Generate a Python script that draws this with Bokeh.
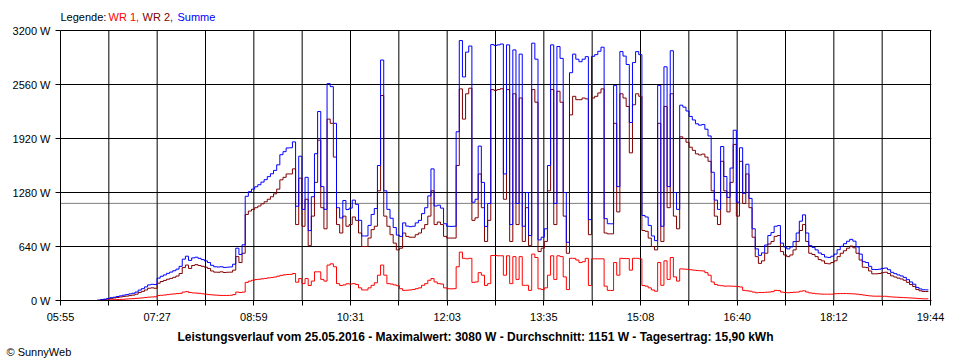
import numpy as np
from bokeh.plotting import figure
from bokeh.models import Span, Label, FixedTicker, ColumnDataSource, Title
from bokeh.embed import file_html
from bokeh.resources import INLINE

# ---------------- data ----------------
start_time = "06:30"      # first sample
step_min = 3              # minutes between samples

# WR 1 (red), in W
wr1 = [0, 2, 4, 6, 8, 9, 11, 13, 15, 18,
       20, 22, 25, 28, 32, 36, 40, 42, 44, 60, 62, 65, 70, 75, 78, 82, 85, 100, 105, 95,
       90, 88, 85, 80, 75, 70, 67, 64, 62, 60, 60, 60, 62, 70, 100, 95, 100, 215, 230, 240,
       248, 252, 257, 262, 268, 272, 278, 288, 298, 304, 308, 310, 320, 217, 260, 200, 260, 178, 230, 340,
       340, 250, 230, 420, 435, 400, 200, 178, 185, 198, 195, 200, 190, 150, 125, 125, 150, 180, 210, 300,
       420, 300, 200, 195, 185, 175, 140, 120, 122, 125, 130, 140, 150, 180, 200, 240, 260, 220, 200, 195,
       150, 140, 138, 140, 400, 573, 500, 494, 500, 215, 220, 330, 300, 178, 200, 533, 533, 530, 530, 300,
       530, 200, 520, 250, 520, 180, 180, 120, 550, 510, 138, 130, 150, 300, 530, 250, 530, 520, 280, 130,
       500, 500, 480, 450, 460, 500, 178, 494, 494, 494, 494, 170, 120, 119, 450, 300, 500, 497, 497, 360,
       500, 500, 494, 178, 170, 150, 125, 110, 450, 180, 470, 250, 510, 280, 230, 375, 372, 370, 365, 360,
       356, 353, 350, 330, 300, 220, 190, 180, 175, 170, 172, 170, 168, 165, 160, 120, 115, 110, 100, 92,
       95, 95, 98, 100, 105, 120, 118, 100, 95, 92, 95, 98, 100, 110, 115, 100, 90, 85, 80, 78,
       75, 75, 75, 75, 80, 82, 82, 83, 82, 80, 78, 75, 70, 65, 60, 55, 52, 51, 51, 50,
       50, 45, 42, 40, 38, 36, 34, 32, 30, 28, 25, 22, 20, 20, 20]

# WR 2 (dark red), in W
wr2 = [3, 8, 12, 18, 25, 30, 36, 42, 48, 52,
       58, 64, 75, 95, 108, 125, 145, 150, 145, 205, 225, 238, 252, 262, 275, 290, 320, 390, 420, 380,
       415, 425, 415, 405, 395, 380, 350, 336, 335, 340, 332, 335, 336, 360, 520, 450, 560, 1020, 1060, 1080,
       1100, 1120, 1146, 1170, 1200, 1230, 1264, 1320, 1430, 1460, 1500, 1500, 1560, 900, 1450, 880, 1200, 650, 1000, 1400,
       1900, 1100, 850, 2150, 2100, 1700, 900, 800, 1000, 880, 900, 990, 950, 800, 640, 640, 740, 840, 880, 1300,
       2430, 1000, 880, 780, 680, 600, 620, 800, 760, 750, 750, 780, 800, 850, 900, 1000, 1300, 900, 930, 900,
       760, 740, 740, 740, 1600, 2508, 2150, 2450, 2516, 950, 980, 1500, 1100, 700, 950, 2500, 2490, 2500, 2510, 1200,
       2500, 700, 2450, 900, 2400, 700, 1100, 650, 2500, 2350, 580, 620, 700, 1300, 2500, 900, 2480, 2350, 1000, 560,
       2200, 2420, 2380, 2380, 2400, 2390, 780, 2400, 2420, 2460, 2508, 800, 790, 790, 2100, 1050, 2450, 2400, 2300, 1750,
       2320, 2450, 2420, 830, 820, 740, 640, 600, 2100, 700, 2300, 1100, 2450, 1000, 850, 1940, 1920, 1876, 1817, 1780,
       1738, 1725, 1735, 1700, 1650, 1300, 1000, 900, 1650, 1300, 1050, 1400, 1850, 1000, 1650, 1150, 1500, 1100, 750, 520,
       440, 470, 560, 670, 700, 760, 770, 580, 540, 520, 540, 600, 700, 830, 900, 700, 560, 545, 520, 485,
       470, 440, 435, 450, 470, 520, 560, 590, 620, 645, 625, 560, 480, 395, 390, 350, 316, 316, 320, 330,
       335, 320, 292, 278, 265, 255, 240, 215, 190, 165, 130, 115, 107, 106, 106]

x_labels = ["05:55", "07:27", "08:59", "10:31", "12:03", "13:35", "15:08", "16:40", "18:12", "19:44"]
y_ticks = [0, 640, 1280, 1920, 2560, 3200]
y_labels = ["0 W", "640 W", "1280 W", "1920 W", "2560 W", "3200 W"]
avg_w = 1151

legend_parts = ["Legende:", "WR 1,", "WR 2,", "Summe"]
title_text = ("Leistungsverlauf vom 25.05.2016 - Maximalwert: 3080 W - "
              "Durchschnitt: 1151 W - Tagesertrag: 15,90 kWh")
copyright_text = "\u00a9 SunnyWeb"

# ---------------- derived ----------------
summe = [a + b for a, b in zip(wr1, wr2)]


def to_min(s):
    h, m = s.split(":")
    return int(h) * 60 + int(m)


n_div = 2 * (len(x_labels) - 1)          # grid divisions (labelled every second)
x0 = to_min(x_labels[0])
x1 = to_min(x_labels[-1])
div = (x1 - x0) / n_div
t0 = to_min(start_time)
times = [t0 + i * step_min for i in range(len(wr1))]
u = [(t - x0) / div for t in times]

src = ColumnDataSource(dict(u=u, wr1=wr1, wr2=wr2, summe=summe))

FONT = "Liberation Sans"

# layout (pixels)
W, H = 960, 360
left, right_edge = 60, 930          # plot area in px
top_plot, bottom = 30, 300          # top grid line / x axis
frame_w = right_edge - left + 1     # one spare px so the last grid line is not clipped
frame_h = bottom                    # frame reaches the top of the canvas (legend lives there)

x_end = n_div * frame_w / (right_edge - left)
y_end = y_ticks[-1] * frame_h / (bottom - top_plot)

p = figure(width=W, height=H, x_range=(0, x_end), y_range=(0, y_end),
           output_backend="svg", toolbar_location=None,
           min_border_left=left, min_border_right=W - left - frame_w,
           min_border_top=0, min_border_bottom=H - bottom)
p.background_fill_color = "white"
p.border_fill_color = "white"
p.outline_line_color = None

x_ticks = list(range(n_div + 1))
p.xaxis.ticker = FixedTicker(ticks=x_ticks)
p.xaxis.major_label_overrides = {i: (x_labels[i // 2] if i % 2 == 0 else "") for i in x_ticks}
p.yaxis.ticker = FixedTicker(ticks=y_ticks)
p.yaxis.major_label_overrides = {v: lab for v, lab in zip(y_ticks, y_labels)}
p.yaxis.bounds = (y_ticks[0], y_ticks[-1])

for ax in (p.xaxis[0], p.yaxis[0]):
    ax.minor_tick_line_color = None
    ax.major_tick_in = 0
    ax.major_tick_out = 5
    ax.major_tick_line_color = "black"
    ax.axis_line_color = "black"
    ax.major_label_text_font = FONT
    ax.major_label_text_font_size = "11px"
    ax.major_label_text_color = "black"
p.xaxis.major_label_standoff = 5
p.yaxis.major_label_standoff = 5

p.xgrid.visible = False
p.ygrid.ticker = FixedTicker(ticks=y_ticks)
p.ygrid.grid_line_color = "black"
p.ygrid.grid_line_alpha = 1.0
p.ygrid.grid_line_width = 1

# vertical grid lines, from the bottom to the top tick only
p.segment(x0=x_ticks, y0=[y_ticks[0]] * len(x_ticks), x1=x_ticks, y1=[y_ticks[-1]] * len(x_ticks),
          line_color="black", line_width=1)

p.add_layout(Span(location=avg_w, dimension="width", line_color="#808080", line_width=1,
                  level="underlay"))

p.step(x="u", y="wr1", source=src, mode="after", line_color="#FF0000", line_width=1)
p.step(x="u", y="wr2", source=src, mode="after", line_color="#800000", line_width=1)
p.step(x="u", y="summe", source=src, mode="after", line_color="#0000FF", line_width=1)

legend_colors = ["black", "#FF0000", "#800000", "#0000FF"]
legend_x = [0, 48, 82, 117]
for txt, col, lx in zip(legend_parts, legend_colors, legend_x):
    p.add_layout(Label(x=lx, y=frame_h - 16, x_units="screen", y_units="screen", text=txt,
                       text_color=col, text_font=FONT, text_font_size="11px",
                       text_baseline="middle", text_align="left"))

p.add_layout(Title(text=title_text, align="left", offset=117, vertical_align="bottom", standoff=4,
                   text_font=FONT, text_font_size="12px", text_font_style="bold",
                   text_color="black"), "below")
p.add_layout(Title(text=copyright_text, align="left", vertical_align="top", standoff=0, offset=-54,
                   text_font=FONT, text_font_size="11px", text_font_style="normal",
                   text_color="black"), "below")

open("out.html", "w").write(file_html(p, INLINE))
